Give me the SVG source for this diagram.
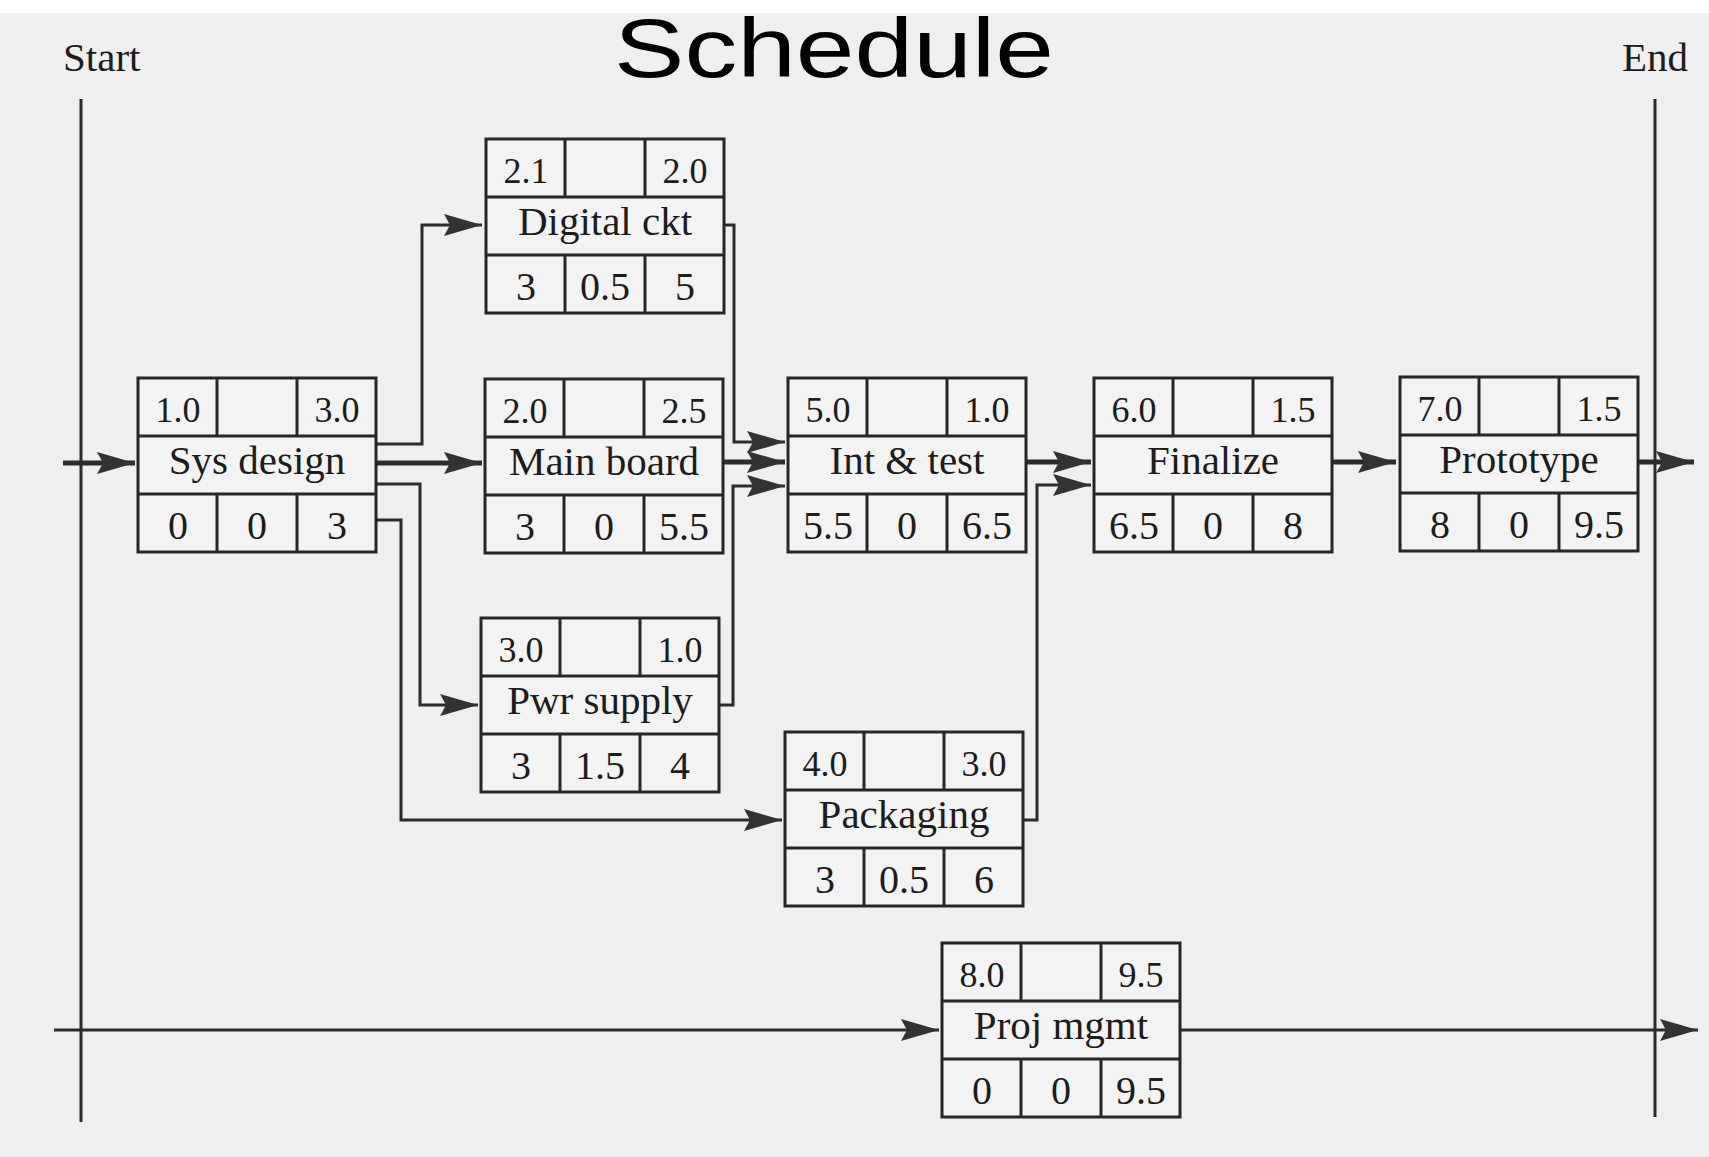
<svg xmlns="http://www.w3.org/2000/svg" width="1709" height="1157" viewBox="0 0 1709 1157">
<style>
.frame{fill:#f3f3f3;stroke:#262626;stroke-width:3}
.div{stroke:#262626;stroke-width:3;fill:none}
.num{font-family:"Liberation Serif","Times New Roman",serif;font-size:36px;fill:#1c1c1c;text-anchor:middle}
.numb{font-family:"Liberation Serif","Times New Roman",serif;font-size:40px;fill:#1c1c1c;text-anchor:middle}
.name{font-family:"Liberation Serif","Times New Roman",serif;font-size:41px;fill:#1c1c1c;text-anchor:middle}
.lbl{font-family:"Liberation Serif","Times New Roman",serif;font-size:41px;fill:#1c1c1c}
.c{stroke:#2b2b2b;stroke-width:3;fill:none;marker-end:url(#ah)}
.ct{stroke:#2b2b2b;stroke-width:5;fill:none;marker-end:url(#ah)}
.axis{stroke:#2b2b2b;stroke-width:3;fill:none}
</style>
<defs>
<marker id="ah" markerUnits="userSpaceOnUse" markerWidth="40" markerHeight="24" refX="38" refY="11" orient="auto">
<path d="M0,0 L38,11 L0,22 L6,11 z" fill="#333333"/>
</marker>
<g id="cell">
<rect class="frame" x="0" y="0" width="238" height="174"/>
<path class="div" d="M0,58 H238 M0,116 H238 M79,0 V58 M159,0 V58 M79,116 V174 M159,116 V174"/>
</g>
</defs>
<rect x="0" y="0" width="1709" height="1157" fill="#ffffff"/>
<rect x="0" y="13" width="1709" height="1144" fill="#efefef"/>
<text x="614" y="77" font-family="Liberation Sans, Arial, sans-serif" font-size="84" textLength="440" lengthAdjust="spacingAndGlyphs" fill="#000">Schedule</text>
<text class="lbl" x="63" y="71">Start</text>
<text class="lbl" x="1622" y="71">End</text>
<g id="axes">
<line class="axis" x1="81" y1="99" x2="81" y2="1122"/>
<line class="axis" x1="1655" y1="99" x2="1655" y2="1117"/>
</g>
<g id="connectors">
<path class="ct" d="M63,463 H135"/>
<path class="ct" d="M376,463 H482"/>
<path class="c" d="M376,444 H422 V225 H482"/>
<path class="c" d="M376,484 H420 V705 H478"/>
<path class="c" d="M376,520 H401 V820 H782"/>
<path class="c" d="M725,225 H734 V442 H785"/>
<path class="ct" d="M722,462 H785"/>
<path class="c" d="M719,705 H733 V486 H785"/>
<path class="ct" d="M1026,462 H1091"/>
<path class="c" d="M1023,820 H1037 V485 H1091"/>
<path class="ct" d="M1332,462 H1396"/>
<path class="ct" d="M1638,462 H1694"/>
<path class="c" d="M54,1030 H939"/>
<path class="c" d="M1179,1030 H1698"/>
</g>
<g id="digital-ckt" transform="translate(486,139)">
<use href="#cell"/>
<text class="num" x="40" y="44">2.1</text><text class="num" x="199" y="44">2.0</text>
<text class="name" x="119" y="96">Digital ckt</text>
<text class="numb" x="40" y="161">3</text><text class="numb" x="119" y="161">0.5</text><text class="numb" x="199" y="161">5</text>
</g>
<g id="sys-design" transform="translate(138,378)">
<use href="#cell"/>
<text class="num" x="40" y="44">1.0</text><text class="num" x="199" y="44">3.0</text>
<text class="name" x="119" y="96">Sys design</text>
<text class="numb" x="40" y="161">0</text><text class="numb" x="119" y="161">0</text><text class="numb" x="199" y="161">3</text>
</g>
<g id="main-board" transform="translate(485,379)">
<use href="#cell"/>
<text class="num" x="40" y="44">2.0</text><text class="num" x="199" y="44">2.5</text>
<text class="name" x="119" y="96">Main board</text>
<text class="numb" x="40" y="161">3</text><text class="numb" x="119" y="161">0</text><text class="numb" x="199" y="161">5.5</text>
</g>
<g id="int-test" transform="translate(788,378)">
<use href="#cell"/>
<text class="num" x="40" y="44">5.0</text><text class="num" x="199" y="44">1.0</text>
<text class="name" x="119" y="96">Int &amp; test</text>
<text class="numb" x="40" y="161">5.5</text><text class="numb" x="119" y="161">0</text><text class="numb" x="199" y="161">6.5</text>
</g>
<g id="finalize" transform="translate(1094,378)">
<use href="#cell"/>
<text class="num" x="40" y="44">6.0</text><text class="num" x="199" y="44">1.5</text>
<text class="name" x="119" y="96">Finalize</text>
<text class="numb" x="40" y="161">6.5</text><text class="numb" x="119" y="161">0</text><text class="numb" x="199" y="161">8</text>
</g>
<g id="prototype" transform="translate(1400,377)">
<use href="#cell"/>
<text class="num" x="40" y="44">7.0</text><text class="num" x="199" y="44">1.5</text>
<text class="name" x="119" y="96">Prototype</text>
<text class="numb" x="40" y="161">8</text><text class="numb" x="119" y="161">0</text><text class="numb" x="199" y="161">9.5</text>
</g>
<g id="pwr-supply" transform="translate(481,618)">
<use href="#cell"/>
<text class="num" x="40" y="44">3.0</text><text class="num" x="199" y="44">1.0</text>
<text class="name" x="119" y="96">Pwr supply</text>
<text class="numb" x="40" y="161">3</text><text class="numb" x="119" y="161">1.5</text><text class="numb" x="199" y="161">4</text>
</g>
<g id="packaging" transform="translate(785,732)">
<use href="#cell"/>
<text class="num" x="40" y="44">4.0</text><text class="num" x="199" y="44">3.0</text>
<text class="name" x="119" y="96">Packaging</text>
<text class="numb" x="40" y="161">3</text><text class="numb" x="119" y="161">0.5</text><text class="numb" x="199" y="161">6</text>
</g>
<g id="proj-mgmt" transform="translate(942,943)">
<use href="#cell"/>
<text class="num" x="40" y="44">8.0</text><text class="num" x="199" y="44">9.5</text>
<text class="name" x="119" y="96">Proj mgmt</text>
<text class="numb" x="40" y="161">0</text><text class="numb" x="119" y="161">0</text><text class="numb" x="199" y="161">9.5</text>
</g>
</svg>
